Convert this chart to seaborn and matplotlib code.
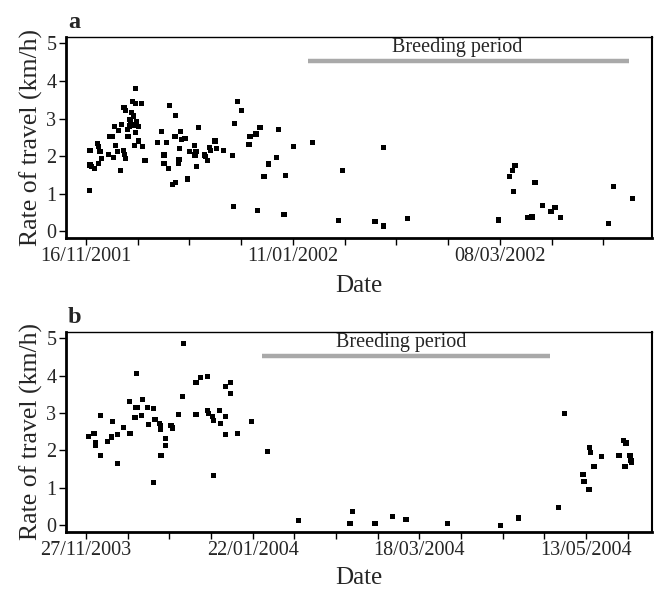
import matplotlib
matplotlib.use('Agg')
import matplotlib.pyplot as plt
import matplotlib.dates as mdates
import numpy as np
import pandas as pd
import seaborn as sns

sns.set_style('ticks')
plt.rcParams['font.family'] = ['Liberation Serif', 'DejaVu Serif']

# panel a: days after 16/11/2001 and rate of travel (km/h)
start_a = '2001-11-16'
days_a = [0.9, 1.1, 1.1, 1.5, 2.4, 3.1, 3.5, 3.3, 3.8, 4.1, 6.0, 6.5, 7.2, 7.4, 7.7, 8.1, 8.6, 8.7,
          9.4, 9.6, 10.1, 10.3, 10.5, 10.8, 10.8, 11.3, 11.4, 11.7, 11.9, 12.2, 12.4, 12.5, 12.8,
          13.0, 13.1, 13.3, 13.3, 13.3, 13.7, 14.2, 14.3, 15.1, 15.3, 16.0, 19.4, 20.5, 21.1, 21.1,
          21.8, 22.3, 22.7, 23.4, 24.3, 24.1, 24.3, 25.0, 25.2, 25.4, 25.6, 25.9, 26.8, 27.5, 28.1,
          29.3, 29.5, 29.8, 29.9, 30.4, 32.0, 32.4, 32.8, 33.4, 33.7, 34.9, 35.3, 37.2, 39.6, 40.1,
          39.9, 41.1, 42.1, 44.1, 44.4, 46.0, 46.4, 47.1, 48.2, 49.5, 51.6, 52.1, 53.9, 53.6, 56.1,
          61.3, 69.4, 68.4, 78.2, 80.4, 80.6, 86.9, 111.6, 114.5, 115.4, 116.1, 115.6, 121.5, 119.5,
          120.7, 123.6, 125.8, 126.9, 128.5, 141.4, 142.7, 147.8]
rate_a = [1.09, 2.14, 1.76, 1.72, 1.67, 2.34, 2.25, 1.80, 2.13, 1.94, 2.04, 2.53, 2.52, 1.96, 2.78,
          2.29, 2.13, 2.69, 1.61, 2.85, 2.14, 3.29, 2.05, 3.21, 1.94, 2.71, 2.53, 2.80, 2.98, 2.83,
          3.16, 3.45, 3.07, 2.83, 2.29, 3.80, 3.40, 2.62, 2.92, 2.78, 2.40, 3.39, 2.25, 1.88, 2.36,
          2.65, 2.03, 1.80, 2.36, 1.67, 3.34, 1.24, 1.29, 2.52, 3.09, 1.80, 1.91, 2.20, 2.65, 2.44,
          2.47, 1.39, 2.12, 2.29, 2.03, 2.12, 1.72, 2.76, 2.03, 1.98, 1.89, 2.22, 2.14, 2.40, 2.20,
          2.14, 2.01, 2.87, 0.65, 3.45, 3.21, 2.31, 2.52, 2.59, 0.56, 2.76, 1.45, 1.79, 1.96, 2.71,
          1.48, 0.44, 2.25, 2.36, 1.61, 0.28, 0.25, 0.14, 2.22, 0.33, 0.30, 1.45, 1.61, 1.74, 1.05,
          1.29, 0.36, 0.38, 0.68, 0.52, 0.62, 0.36, 0.20, 1.18, 0.86]
breed_a = ['2002-01-15', '2002-04-12']

# panel b: days after 27/11/2003
start_b = '2003-11-27'
days_b = [0.8, 2.7, 3.2, 3.2, 5.0, 5.0, 7.2, 8.6, 8.8, 10.6, 10.6, 12.5, 14.6, 14.8, 16.5, 16.8,
          17.0, 17.4, 18.7, 19.0, 20.7, 20.9, 22.8, 22.8, 23.2, 24.6, 25.1, 25.1, 25.2, 26.8, 26.8,
          28.6, 29.1, 31.2, 32.5, 32.8, 37.0, 37.0, 38.6, 40.8, 40.8, 41.1, 42.6, 42.8, 42.8, 45.0,
          45.2, 46.9, 46.9, 47.0, 48.7, 48.6, 51.0, 55.7, 61.0, 71.5, 88.7, 89.5, 97.1, 103.0,
          107.5, 121.5, 139.2, 145.3, 158.7, 160.9, 167.0, 167.3, 169.0, 169.2, 169.4, 170.7,
          173.3, 179.1, 180.5, 181.4, 181.1, 182.8, 183.1, 183.3]
rate_b = [2.38, 2.45, 2.22, 2.14, 2.94, 1.87, 2.25, 2.36, 2.78, 2.42, 1.65, 2.62, 3.32, 2.45, 2.89,
          3.14, 4.07, 3.16, 2.94, 3.36, 3.14, 2.69, 3.12, 1.15, 2.83, 2.72, 2.66, 2.56, 1.87, 2.32,
          2.14, 2.66, 2.60, 2.96, 3.45, 4.87, 3.82, 2.96, 3.96, 3.98, 3.07, 2.98, 2.91, 2.81, 1.33,
          3.07, 2.72, 2.91, 2.42, 3.72, 3.82, 3.52, 2.45, 2.78, 1.98, 0.13, 0.05, 0.37, 0.05, 0.24,
          0.16, 0.05, 0.00, 0.19, 0.48, 2.99, 1.36, 1.18, 0.96, 2.09, 1.95, 1.58, 1.84, 1.87, 2.27,
          2.20, 1.58, 1.87, 1.74, 1.67]
breed_b = ['2004-01-25', '2004-05-01']


def panel(ax, start, days, rate, breed, xlim_days, text_day, letter, xpad):
    t0 = pd.Timestamp(start)
    df = pd.DataFrame({'Date': t0 + pd.to_timedelta(days, unit='D'), 'Rate': rate})
    sns.scatterplot(data=df, x='Date', y='Rate', ax=ax, marker='s', s=14,
                    color='black', edgecolor='none', linewidth=0)
    b0, b1 = pd.Timestamp(breed[0]), pd.Timestamp(breed[1])
    ax.plot([b0, b1], [4.54, 4.54], color='#a9a9a9', lw=3.2, solid_capstyle='butt')
    ax.text(t0 + pd.Timedelta(days=text_day), 4.64, 'Breeding period', ha='center',
            va='bottom', fontsize=14.5)
    ax.set_yticks([0, 1, 2, 3, 4, 5])
    major = [t0 + pd.Timedelta(days=d) for d in (0, 56, 112, 168)
             if d <= xlim_days[1]]
    minor = [t0 + pd.Timedelta(days=d) for d in range(0, 190, 14)
             if d <= xlim_days[1]]
    ax.set_xticks(major)
    ax.set_xticks(minor, minor=True)
    ax.xaxis.set_major_formatter(mdates.DateFormatter('%d/%m/%Y'))
    ax.set_xlim(t0 + pd.Timedelta(days=xlim_days[0]), t0 + pd.Timedelta(days=xlim_days[1]))
    ax.set_ylim(-0.19, 5.18)
    ax.tick_params(axis='both', which='both', direction='out', length=5, width=1,
                   labelsize=14.5, color='black')
    ax.tick_params(axis='x', which='both', pad=1)
    ax.tick_params(axis='y', pad=2)
    ax.set_xlabel('Date', fontsize=18, labelpad=xpad)
    ax.set_ylabel('Rate of travel (km/h)', fontsize=18.5, labelpad=2)
    for side, w in [('left', 2), ('bottom', 2), ('top', 1), ('right', 1.5)]:
        ax.spines[side].set_visible(True)
        ax.spines[side].set_linewidth(w)
        ax.spines[side].set_color('black')
    ax.text(0.003, 1.02, letter, transform=ax.transAxes, fontsize=17.5,
            fontweight='bold', ha='left', va='bottom')


fig = plt.figure(figsize=(6.56, 5.89), dpi=100)
ax_a = fig.add_axes([0.1006, 0.5954, 0.893, 0.3423])
ax_b = fig.add_axes([0.1006, 0.0963, 0.893, 0.3406])
panel(ax_a, start_a, days_a, rate_a, breed_a, (-5.4, 153.1), 100.4, 'a', 7)
panel(ax_b, start_b, days_b, rate_b, breed_b, (-6.7, 190.1), 105.8, 'b', 5)

fig.savefig('out.png', dpi=100)
